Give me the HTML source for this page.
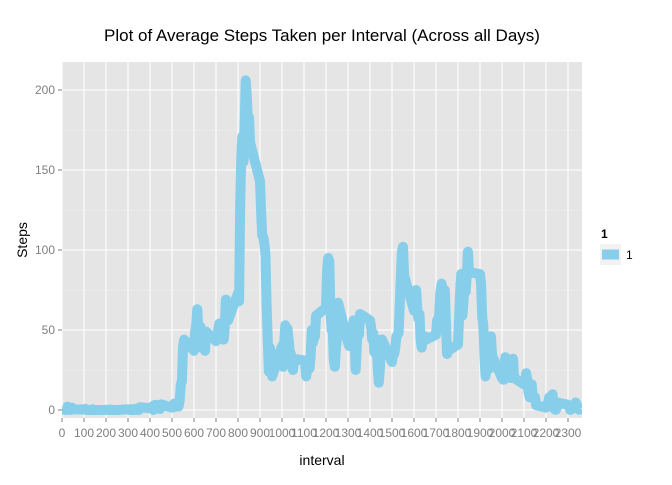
<!DOCTYPE html>
<html><head><meta charset="utf-8"><style>
body{margin:0;background:#fff;}
svg text{font-family:"Liberation Sans",sans-serif;}
</style></head><body>
<svg id="c" width="672" height="480" xmlns="http://www.w3.org/2000/svg">
<text x="322" y="41" text-anchor="middle" font-size="17" fill="#000">Plot of Average Steps Taken per Interval (Across all Days)</text>
<rect x="62" y="62" width="520" height="356" fill="#E5E5E5"/>
<g id="grid"></g><g id="series"></g><g id="axes"></g>
<text x="322" y="465" text-anchor="middle" font-size="14" fill="#000">interval</text>
<text x="27" y="240" text-anchor="middle" font-size="14" fill="#000" transform="rotate(-90 27 240)">Steps</text>
<g>
<text x="601" y="238" font-size="12" font-weight="bold" fill="#000">1</text>
<rect x="600" y="244" width="21" height="21" fill="#F2F2F2"/>
<line x1="602" y1="254.5" x2="619" y2="254.5" stroke="#87CEEB" stroke-width="10"/>
<text x="626" y="259" font-size="12" fill="#000">1</text>
</g>
</svg>
<script>
const early=[1.7,0.3,0.1,0.2,0,2.1,0.5,0.9,0,1.5,0.8,0.4, 0.3,0.7,0,0.1,0,0.1,0,0,0.4,0,0,0, 0.1,0.2,0.1,0,0.3,0,0.1,0,0,0,0,0, 0.5,0,0,0.5,0,0,0.1,0.8,0,0.2,0,1.7,
1.1,1.5,2.1,0,3.0,3.2,1.9,1.2,3.0,0.6,3.5,3.4];
const later=[1.4,1.6,4.0,2.0,3.7,2.8,2.2,6.0,16,18,39,44,
37,49,53,63,50,47,52,39,44,44,37,49, 43,44,50,54,49,50,55,44,52,69,58,56,
73,68,129,158,171,155,177,206,196,180,183,167, 143,124,109,108,104,96,66,45,24,39,35,21,
40,27,42,53,39,51,44,37,35,28,25,32, 31,30,21,26,28,26,33,50,42,45,46,59,
64,88,95,93,63,50,54,32,27,38,45,67, 42,40,43,41,46,56,43,25,40,53,47,60,
56,52,44,48,36,37,42,27,17,26,44,44, 30,36,35,39,46,47,48,65,83,99,102,84,
62,64,75,63,57,60,44,39,45,45,46,44, 47,56,51,61,73,79,68,60,75,56,35,37,
41,58,75,85,59,68,78,74,85,99,87,86, 85,78,58,53,36,21,27,40,30,26,46,34,
20,19,19,33,27,21,27,21,20,21,32,20, 16,17,23,19,12,8,15,16,8,7,8,3,
1.5,3,5,8,7,8,9.8,2,0.3,0.1,1.6,4.6, 3.3,2.8,0,0.8,1,1.6,2.6,4.7,3.3,0.6,0.2,1.1];
const steps=early.concat(later);
const intervals=[];for(let h=0;h<24;h++)for(let m=0;m<60;m+=5)intervals.push(h*100+m);
const xTicks=[];for(let t=0;t<=2300;t+=100)xTicks.push(t);
const yTicks=[0,50,100,150,200];
const NS="http://www.w3.org/2000/svg";
const X=v=>62+v*0.22, Y=v=>410-v*1.6;
function mk(tag,at,parent){const e=document.createElementNS(NS,tag);for(const k in at)e.setAttribute(k,at[k]);parent.appendChild(e);return e;}
const grid=document.getElementById('grid'),axes=document.getElementById('axes'),ser=document.getElementById('series');
for(let v=-50;v<=2400;v+=100){const x=X(v+50);if(x>62&&x<582){const l=mk('line',{x1:x,x2:x,y1:62,y2:418,stroke:'#F2F2F2','stroke-width':0.6},grid);

}}
for(let v=25;v<=225;v+=50){const y=Y(v);if(y>62){const l=mk('line',{x1:62,x2:582,y1:y,y2:y,stroke:'#F2F2F2','stroke-width':0.6},grid);

}}
xTicks.forEach(t=>{const x=X(t);const l=mk('line',{x1:x,x2:x,y1:62,y2:418,stroke:'#fff','stroke-width':1.1},grid);


const k=mk('line',{x1:x,x2:x,y1:418,y2:422,stroke:'#7F7F7F','stroke-width':1},axes);


const tx=mk('text',{x:x,y:437,'text-anchor':'middle','font-size':12,fill:'#7F7F7F'},axes);tx.textContent=t;

});
yTicks.forEach(t=>{const y=Y(t);const l=mk('line',{x1:62,x2:582,y1:y,y2:y,stroke:'#fff','stroke-width':1.1},grid);


const k=mk('line',{x1:58,x2:62,y1:y,y2:y,stroke:'#7F7F7F','stroke-width':1},axes);


const tx=mk('text',{x:55,y:y+4,'text-anchor':'end','font-size':12,fill:'#7F7F7F'},axes);tx.textContent=t;

});
const d=intervals.map((iv,i)=>(i?'L':'M')+X(iv).toFixed(2)+','+Y(steps[i]).toFixed(2)).join('');
const p=mk('path',{d:d,fill:'none',stroke:'#87CEEB','stroke-width':10,'stroke-linejoin':'round','stroke-linecap':'butt'},ser);


const cp=mk('clipPath',{id:'cl'},document.getElementById('c'));mk('rect',{x:62,y:62,width:520,height:356},cp);ser.setAttribute('clip-path','url(#cl)');
</script>
</body></html>
